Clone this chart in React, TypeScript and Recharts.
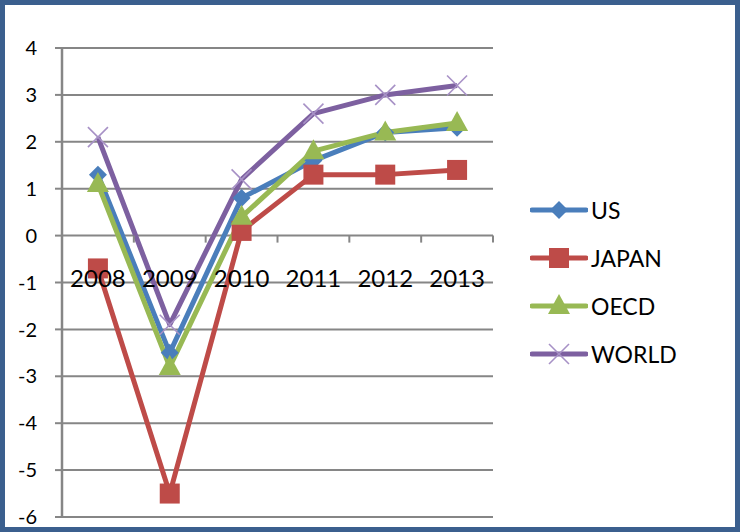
import { CartesianGrid, Legend, Line, LineChart, XAxis, YAxis } from "recharts";

const years = ["2008", "2009", "2010", "2011", "2012", "2013"];
const us = [1.3, -2.5, 0.8, 1.6, 2.2, 2.3];
const japan = [-0.7, -5.5, 0.1, 1.3, 1.3, 1.4];
const oecd = [1.1, -2.8, 0.4, 1.8, 2.2, 2.4];
const world = [2.1, -1.9, 1.2, 2.6, 3.0, 3.2];
const yTicks = [-6, -5, -4, -3, -2, -1, 0, 1, 2, 3, 4];

const W = 740;
const H = 532;
const margin = { top: 48, right: 247, bottom: 14, left: 0 };
const xAxisHeight = 1;
const yAxisWidth = 62;
const plotTop = margin.top;
const plotH = H - margin.top - margin.bottom - xAxisHeight;
const plotW = W - margin.left - margin.right - yAxisWidth;
const yMin = -6;
const yMax = 4;
const zeroY = plotTop + (plotH * yMax) / (yMax - yMin);
const band = plotW / years.length;

const font = 'Lato, "Liberation Sans", sans-serif';
const gridColor = "#868686";

const data = years.map((year, i) => ({
    year,
    US: us[i],
    JAPAN: japan[i],
    OECD: oecd[i],
    WORLD: world[i],
}));

// markers
function marker(kind: string, color: string, cx: number, cy: number, key?: any) {
    if (kind === "diamond") {
        return (
            <path key={key} fill={color}
                d={`M${cx},${cy - 9}L${cx + 9},${cy}L${cx},${cy + 9}L${cx - 9},${cy}Z`} />
        );
    }
    if (kind === "square") {
        return <rect key={key} x={cx - 10} y={cy - 10} width={20} height={20} fill={color} />;
    }
    if (kind === "triangle") {
        return (
            <path key={key} fill={color}
                d={`M${cx},${cy - 12}L${cx + 11},${cy + 8}L${cx - 11},${cy + 8}Z`} />
        );
    }
    return (
        <g key={key} stroke="#A791C6" strokeWidth={1.6}>
            <line x1={cx - 10} y1={cy - 10} x2={cx + 10} y2={cy + 10} />
            <line x1={cx - 10} y1={cy + 10} x2={cx + 10} y2={cy - 10} />
        </g>
    );
}

const series = [
    { key: "US", color: "#4A7EBB", kind: "diamond" },
    { key: "JAPAN", color: "#BE4B48", kind: "square" },
    { key: "OECD", color: "#98B954", kind: "triangle" },
    { key: "WORLD", color: "#7D60A0", kind: "x" },
];

const renderXTick = (props: any) => {
    const { x, payload, index } = props;
    const left = x - band / 2;
    return (
        <g key={`xt-${index}`}>
            <line x1={left} y1={zeroY} x2={left} y2={zeroY + 7} stroke={gridColor} strokeWidth={2} />
            {index === years.length - 1 && (
                <line x1={x + band / 2} y1={zeroY} x2={x + band / 2} y2={zeroY + 7}
                    stroke={gridColor} strokeWidth={2} />
            )}
            <text x={x} y={zeroY + 51} textAnchor="middle" fontSize={24}
                fontFamily={font} fill="#000">
                {payload.value}
            </text>
        </g>
    );
};

function LegendBox() {
    return (
        <div>
            {series.map(s => (
                <div key={s.key} style={{ display: "flex", alignItems: "center", height: 48 }}>
                    <svg width={58} height={24}>
                        <line x1={2} y1={12} x2={56} y2={12} stroke={s.color}
                            strokeWidth={5} strokeLinecap="round" />
                        {marker(s.kind, s.color, 29, 12)}
                    </svg>
                    <span style={{ fontFamily: font, fontSize: 23, color: "#000", marginLeft: 3 }}>
                        {s.key}
                    </span>
                </div>
            ))}
        </div>
    );
}

export default function App() {
    return (
        <div style={{ position: "absolute", left: 0, top: 0, width: W, height: H, background: "#fff" }}>
            <LineChart width={W} height={H} data={data} margin={margin}>
                <CartesianGrid vertical={false} stroke={gridColor} strokeWidth={2} />
                <XAxis dataKey="year" height={xAxisHeight} axisLine={false} tickLine={false}
                    interval={0} padding={{ left: band / 2, right: band / 2 }} tick={renderXTick} />
                <YAxis
                    domain={[yMin, yMax]}
                    ticks={yTicks}
                    width={yAxisWidth}
                    interval={0}
                    tickSize={7}
                    tickMargin={18}
                    axisLine={{ stroke: gridColor, strokeWidth: 2.5 }}
                    tickLine={{ stroke: gridColor, strokeWidth: 2 }}
                    tick={{ fill: "#000", fontSize: 20, fontFamily: font }}
                />
                <Legend
                    layout="vertical"
                    align="center"
                    verticalAlign="middle"
                    wrapperStyle={{ left: 530, top: 186, width: 200 }}
                    content={<LegendBox />}
                />
                {series.map(s => (
                    <Line
                        key={s.key}
                        type="linear"
                        dataKey={s.key}
                        stroke={s.color}
                        strokeWidth={5}
                        strokeLinejoin="round"
                        dot={(p: any) => marker(s.kind, s.color, p.cx, p.cy, `${s.key}-${p.index}`)}
                        activeDot={false}
                        isAnimationActive={false}
                    />
                ))}
            </LineChart>
            <div style={{
                position: "absolute", left: 0, top: 0, width: W, height: H,
                boxSizing: "border-box", border: "5px solid #3B5F8E", pointerEvents: "none",
            }} />
        </div>
    );
}
